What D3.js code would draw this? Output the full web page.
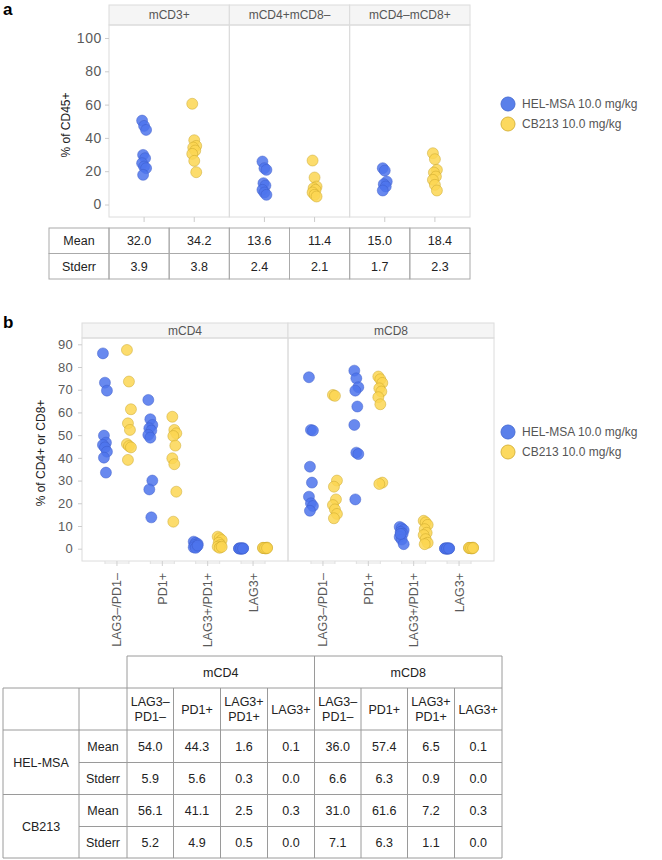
<!DOCTYPE html>
<html><head><meta charset="utf-8">
<script src="https://cdn.jsdelivr.net/npm/d3@7"></script>
<style>body{margin:0;background:#fff;} svg{display:block;font-family:"Liberation Sans",Arial,Helvetica,sans-serif;}</style>
</head><body>
<svg id="c" width="662" height="860"></svg>
<script>
// ---------- DATA ----------
const groups = ["HEL-MSA 10.0 mg/kg", "CB213 10.0 mg/kg"];
const groupShort = ["HEL-MSA", "CB213"];

// Panel a
const facetsA = ["mCD3+", "mCD4+mCD8\u2013", "mCD4\u2013mCD8+"];
const helA = [
  [50.4, 47.2, 44.8, 29.8, 27.8, 24.8, 22.8, 21.8, 17.8],
  [25.8, 21.8, 20.8, 12.8, 11.4, 8.8, 7.2, 5.8],
  [21.8, 20.4, 13.8, 12.2, 10.8, 8.4]
];
const cbA = [
  [60.5, 38.6, 35.2, 34.2, 32.4, 30.4, 26.2, 19.4],
  [26.4, 16.2, 10.8, 9.8, 8.8, 7.2, 5.8, 4.8],
  [30.8, 27.2, 20.8, 19.2, 16.8, 14.8, 11.8, 8.4]
];
const yTicksA = [0, 20, 40, 60, 80, 100];
const meanA = ["32.0", "34.2", "13.6", "11.4", "15.0", "18.4"];
const stderrA = ["3.9", "3.8", "2.4", "2.1", "1.7", "2.3"];

// Panel b
const facetsB = ["mCD4", "mCD8"];
const catsB = ["LAG3\u2013/PD1\u2013", "PD1+", "LAG3+/PD1+", "LAG3+"];
const helB = [
  [ // mCD4
    [86.0, 73.1, 69.6, 49.8, 46.7, 45.7, 44.6, 42.7, 40.1, 33.5],
    [65.5, 57.0, 54.5, 53.0, 52.0, 50.1, 48.9, 30.0, 26.1, 13.8],
    [3.1, 2.6, 2.1, 1.6, 1.0, 0.6, 0.4, 1.4],
    [0.1, 0.0, 0.2, 0.1, 0.0, 0.1, 0.2, 0.1]
  ],
  [ // mCD8
    [75.5, 52.3, 52.0, 36.1, 29.1, 22.9, 20.0, 18.8, 16.7],
    [78.4, 75.0, 71.1, 69.6, 62.6, 54.5, 42.3, 41.7, 21.7],
    [9.6, 9.0, 8.2, 7.4, 6.6, 5.2, 4.0, 2.0, 6.5],
    [0.1, 0.0, 0.2, 0.1, 0.0, 0.1, 0.2, 0.1]
  ]
];
const cbB = [
  [
    [87.5, 73.6, 61.4, 55.2, 52.3, 46.1, 45.2, 44.6, 39.1],
    [58.1, 52.3, 50.8, 49.6, 45.4, 39.8, 37.2, 25.1, 11.9],
    [5.3, 4.6, 3.8, 2.6, 1.6, 0.9, 0.4, 0.8],
    [0.3, 0.2, 0.5, 0.3, 0.1, 0.4, 0.3, 0.3]
  ],
  [
    [67.7, 67.3, 30.0, 27.3, 21.7, 19.2, 17.3, 15.3, 13.4],
    [75.8, 74.6, 73.0, 70.6, 69.2, 66.7, 63.6, 29.1, 28.5],
    [12.3, 11.6, 10.5, 8.6, 7.0, 6.0, 4.2, 2.6, 2.0],
    [0.3, 0.2, 0.5, 0.3, 0.1, 0.4, 0.3, 0.3]
  ]
];
const yTicksB = [0, 10, 20, 30, 40, 50, 60, 70, 80, 90];
const tableHeadB = [["LAG3\u2013", "PD1\u2013"], ["PD1+"], ["LAG3+", "PD1+"], ["LAG3+"]];
const rowLabelsB = ["Mean", "Stderr"];
const tableB = [ // [group][row][col]
  [["54.0", "44.3", "1.6", "0.1", "36.0", "57.4", "6.5", "0.1"],
   ["5.9", "5.6", "0.3", "0.0", "6.6", "6.3", "0.9", "0.0"]],
  [["56.1", "41.1", "2.5", "0.3", "31.0", "61.6", "7.2", "0.3"],
   ["5.2", "4.9", "0.5", "0.0", "7.1", "6.3", "1.1", "0.0"]]
];

// ---------- STYLE ----------
const fillC = ["rgba(77,116,236,0.85)", "rgba(252,214,82,0.85)"];
const strokeC = ["rgba(60,90,200,0.6)", "rgba(200,165,40,0.6)"];
const legFill = ["#5a80ea", "#fcd95e"];
const legStroke = ["#4a6fd6", "#d9b640"];
const gridC = "#dcdcdc";
const tickTextC = "#5a5a5a";
const tableLine = "#9a9a9a";

const svg = d3.select("#c");
const jit = i => ((i * 7) % 5 - 2) * 1.0;

function legend(x, y) {
  const g = svg.append("g").attr("transform", `translate(${x},${y})`);
  groups.forEach((n, i) => {
    g.append("circle").attr("cx", 0).attr("cy", i * 20).attr("r", 7)
      .attr("fill", legFill[i]).attr("stroke", legStroke[i]);
    g.append("text").attr("x", 14).attr("y", i * 20).attr("dy", "0.35em")
      .attr("font-size", 12).attr("fill", "#555").text(n);
  });
}

// ================= PANEL A =================
svg.append("text").attr("x", 3).attr("y", 15).attr("font-size", 17).attr("font-weight", "bold").text("a");

const A = {left: 109, right: 470, stripTop: 5, top: 25, bottom: 217};
const fxA = d3.scaleBand().domain(facetsA).range([A.left, A.right]);
const gxA = d3.scalePoint().domain([0, 1]).range([0, fxA.bandwidth()]).padding(0.7);
const yA = d3.scaleLinear().domain([0, 100]).range([204.5, 38]);

facetsA.forEach((f, fi) => {
  const x0 = fxA(f), w = fxA.bandwidth();
  svg.append("rect").attr("x", x0).attr("y", A.stripTop).attr("width", w).attr("height", A.top - A.stripTop)
    .attr("fill", "#f5f5f5").attr("stroke", gridC);
  svg.append("text").attr("x", x0 + w / 2).attr("y", (A.stripTop + A.top) / 2).attr("dy", "0.36em")
    .attr("text-anchor", "middle").attr("font-size", 12).attr("fill", "#555").text(f);
  svg.append("rect").attr("x", x0).attr("y", A.top).attr("width", w).attr("height", A.bottom - A.top)
    .attr("fill", "none").attr("stroke", gridC);
  [0, 1].forEach(g => {
    svg.append("line").attr("x1", x0 + gxA(g)).attr("x2", x0 + gxA(g))
      .attr("y1", A.bottom).attr("y2", A.bottom + 5).attr("stroke", "#ccc");
  });
});

// y axis A
const axA = svg.append("g").attr("transform", `translate(${A.left},0)`)
  .call(d3.axisLeft(yA).tickValues(yTicksA).tickSize(4).tickPadding(3));
axA.select(".domain").remove();
axA.selectAll("line").attr("stroke", "#ccc");
axA.selectAll("text").attr("font-size", 14).attr("letter-spacing", 0.6).attr("fill", tickTextC)
  .attr("font-family", "Liberation Sans, Arial, sans-serif");

svg.append("text").attr("transform", `translate(70,125) rotate(-90)`).attr("text-anchor", "middle")
  .attr("font-size", 12).attr("fill", "#222").text("% of CD45+");

// points A
facetsA.forEach((f, fi) => {
  [helA[fi], cbA[fi]].forEach((vals, g) => {
    svg.append("g").selectAll("circle").data(vals).join("circle")
      .attr("cx", (d, i) => fxA(f) + gxA(g) + jit(i))
      .attr("cy", d => yA(d)).attr("r", 5.5)
      .attr("fill", fillC[g]).attr("stroke", strokeC[g]).attr("stroke-width", 0.8);
  });
});

legend(508, 104);

// table A
(function () {
  const top = 228, rh = 25.5, lx = 49;
  const rows = [["Mean", meanA], ["Stderr", stderrA]];
  const cw = fxA.bandwidth() / 2;
  const colX0 = [];
  facetsA.forEach(f => [0, 1].forEach(g => colX0.push(fxA(f) + g * cw)));
  const t = svg.append("g");
  rows.forEach((r, ri) => {
    const y = top + ri * rh;
    t.append("rect").attr("x", lx).attr("y", y).attr("width", A.left - lx).attr("height", rh)
      .attr("fill", "none").attr("stroke", "#aaa");
    t.append("text").attr("x", (lx + A.left) / 2).attr("y", y + rh / 2).attr("dy", "0.36em")
      .attr("text-anchor", "middle").attr("font-size", 12.5).attr("fill", "#222").text(r[0]);
    r[1].forEach((v, ci) => {
      t.append("rect").attr("x", colX0[ci]).attr("y", y).attr("width", cw).attr("height", rh)
        .attr("fill", "none").attr("stroke", "#aaa");
      t.append("text").attr("x", colX0[ci] + cw / 2).attr("y", y + rh / 2).attr("dy", "0.36em")
        .attr("text-anchor", "middle").attr("font-size", 12.5).attr("fill", "#222").text(v);
    });
  });
})();

// ================= PANEL B =================
svg.append("text").attr("x", 3).attr("y", 328).attr("font-size", 17).attr("font-weight", "bold").text("b");

const B = {left: 82, right: 494, stripTop: 323, top: 338, bottom: 561};
const fxB = d3.scaleBand().domain(facetsB).range([B.left, B.right]);
const cxB = d3.scalePoint().domain(catsB).range([0, fxB.bandwidth()]).padding(0.77);
const gxB = d3.scalePoint().domain([0, 1]).range([-12, 12]);
const yB = d3.scaleLinear().domain([0, 90]).range([548.7, 344.3]);

facetsB.forEach((f, fi) => {
  const x0 = fxB(f), w = fxB.bandwidth();
  svg.append("rect").attr("x", x0).attr("y", B.stripTop).attr("width", w).attr("height", B.top - B.stripTop)
    .attr("fill", "#f5f5f5").attr("stroke", gridC);
  svg.append("text").attr("x", x0 + w / 2).attr("y", (B.stripTop + B.top) / 2).attr("dy", "0.36em")
    .attr("text-anchor", "middle").attr("font-size", 12).attr("fill", "#555").text(f);
  svg.append("rect").attr("x", x0).attr("y", B.top).attr("width", w).attr("height", B.bottom - B.top)
    .attr("fill", "none").attr("stroke", gridC);
  catsB.forEach(c => {
    const cx = x0 + cxB(c);
    svg.append("line").attr("x1", cx + gxB(0)).attr("x2", cx + gxB(1))
      .attr("y1", B.bottom + 2).attr("y2", B.bottom + 2).attr("stroke", "#e2e2e2");
    svg.append("line").attr("x1", cx).attr("x2", cx).attr("y1", B.bottom).attr("y2", B.bottom + 5).attr("stroke", "#d0d0d0");
    [0, 1].forEach(g => svg.append("line").attr("x1", cx + gxB(g)).attr("x2", cx + gxB(g))
      .attr("y1", B.bottom).attr("y2", B.bottom + 3).attr("stroke", "#e0e0e0"));
    svg.append("text").attr("transform", `translate(${cx},573) rotate(-90)`).attr("dy", "0.36em")
      .attr("text-anchor", "end").attr("font-size", 12.5).attr("fill", tickTextC).text(c);
  });
});

const axB = svg.append("g").attr("transform", `translate(${B.left},0)`)
  .call(d3.axisLeft(yB).tickValues(yTicksB).tickSize(4).tickPadding(5));
axB.select(".domain").remove();
axB.selectAll("line").attr("stroke", "#ccc");
axB.selectAll("text").attr("font-size", 13).attr("letter-spacing", 0.3).attr("fill", tickTextC)
  .attr("font-family", "Liberation Sans, Arial, sans-serif");

svg.append("text").attr("transform", `translate(45,453) rotate(-90)`).attr("text-anchor", "middle")
  .attr("font-size", 12).attr("fill", "#222").text("% of CD4+ or CD8+");

facetsB.forEach((f, fi) => {
  catsB.forEach((c, ci) => {
    [helB[fi][ci], cbB[fi][ci]].forEach((vals, g) => {
      svg.append("g").selectAll("circle").data(vals).join("circle")
        .attr("cx", (d, i) => fxB(f) + cxB(c) + gxB(g) + jit(i))
        .attr("cy", d => yB(d)).attr("r", 5.5)
        .attr("fill", fillC[g]).attr("stroke", strokeC[g]).attr("stroke-width", 0.8);
    });
  });
});

legend(508, 432);

// table B
(function () {
  const t = svg.append("g");
  const colEdges = [127, 173.5, 220.5, 267.5, 314.5, 361, 407.5, 454.5, 502];
  const rowEdges = [656, 688, 730, 762.5, 794.5, 826.5, 858];
  const L0 = 3, L1 = 79;
  const fs = 12.5;
  const line = (x1, y1, x2, y2) => t.append("line").attr("x1", x1).attr("y1", y1).attr("x2", x2).attr("y2", y2)
    .attr("stroke", tableLine).attr("stroke-width", 1);
  const txt = (x, y, s) => t.append("text").attr("x", x).attr("y", y).attr("dy", "0.36em")
    .attr("text-anchor", "middle").attr("font-size", fs).attr("fill", "#222").text(s);
  line(colEdges[0], rowEdges[0], colEdges[8], rowEdges[0]);
  line(colEdges[0], rowEdges[0], colEdges[0], rowEdges[6]);
  line(colEdges[4], rowEdges[0], colEdges[4], rowEdges[6]);
  line(colEdges[8], rowEdges[0], colEdges[8], rowEdges[6]);
  facetsB.forEach((f, i) => txt((colEdges[i * 4] + colEdges[i * 4 + 4]) / 2, (rowEdges[0] + rowEdges[1]) / 2, f));
  [1, 2, 4, 6].forEach(r => line(L0, rowEdges[r], colEdges[8], rowEdges[r]));
  [3, 5].forEach(r => line(L1, rowEdges[r], colEdges[8], rowEdges[r]));
  line(L0, rowEdges[1], L0, rowEdges[6]);
  line(L1, rowEdges[1], L1, rowEdges[6]);
  for (let c = 1; c < 8; c++) if (c !== 4) line(colEdges[c], rowEdges[1], colEdges[c], rowEdges[6]);
  for (let c = 0; c < 8; c++) {
    const h = tableHeadB[c % 4];
    const cx = (colEdges[c] + colEdges[c + 1]) / 2, cy = (rowEdges[1] + rowEdges[2]) / 2;
    if (h.length === 1) txt(cx, cy, h[0]);
    else { txt(cx, cy - 7.5, h[0]); txt(cx, cy + 7.5, h[1]); }
  }
  groupShort.forEach((gname, g) => {
    txt((L0 + L1) / 2, rowEdges[2 + g * 2 + 1], gname);
    rowLabelsB.forEach((rl, r) => {
      const ri = 2 + g * 2 + r;
      const cy = (rowEdges[ri] + rowEdges[ri + 1]) / 2;
      txt((L1 + colEdges[0]) / 2, cy, rl);
      tableB[g][r].forEach((v, c) => txt((colEdges[c] + colEdges[c + 1]) / 2, cy, v));
    });
  });
})();
</script>
</body></html>
